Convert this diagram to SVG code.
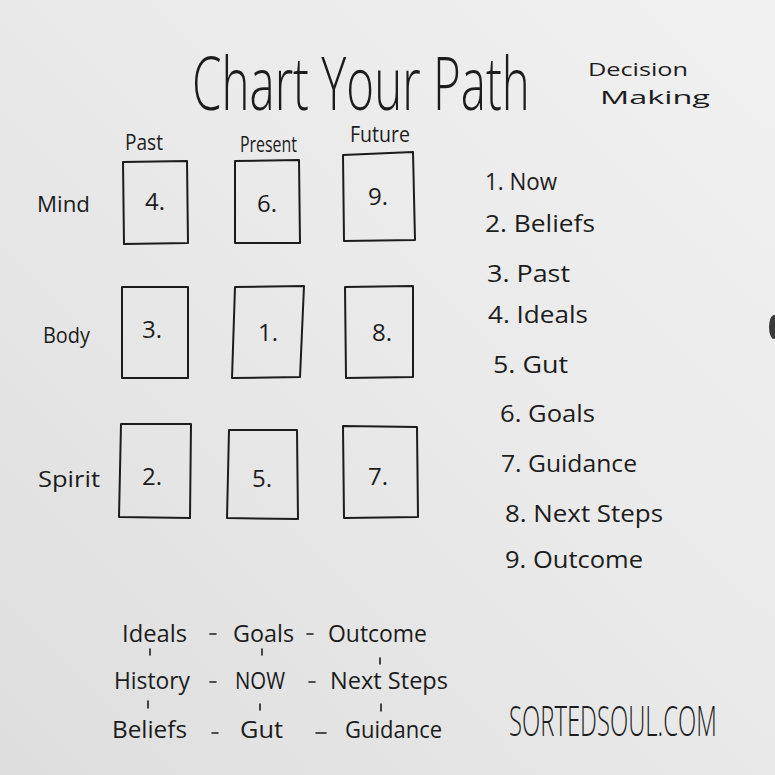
<svg xmlns="http://www.w3.org/2000/svg" width="775" height="775" viewBox="0 0 775 775">
<defs>
<linearGradient id="paper" x1="1" y1="0" x2="0" y2="1">
<stop offset="0" stop-color="#f1f1f1"/>
<stop offset="0.5" stop-color="#e9e9e9"/>
<stop offset="1" stop-color="#dedede"/>
</linearGradient>
<style>
.t{font-family:"Open Sans","Liberation Sans",sans-serif;fill:#1c1c1c;}
.box{fill:none;stroke:#1c1c1c;stroke-width:2;stroke-linejoin:round;}
.ln{stroke:#1c1c1c;stroke-width:1.6;stroke-linecap:round;fill:none;}
.hand{font-size:24px;}
.lbl{font-size:21px;}
.num{font-size:24px;}
</style>
</defs>
<rect width="775" height="775" fill="url(#paper)"/>
<ellipse cx="774" cy="327" rx="5" ry="12" fill="#3a3a3a"/>

<g id="title">
<text class="t" transform="translate(192,110) scale(0.646,1)" x="0" y="0" font-size="74" font-weight="300" textLength="523" lengthAdjust="spacingAndGlyphs">Chart Your Path</text>
<text class="t" x="588" y="76" font-size="18" textLength="100" lengthAdjust="spacingAndGlyphs">Decision</text>
<text class="t" x="600" y="104" font-size="18" textLength="110" lengthAdjust="spacingAndGlyphs">Making</text>
</g>

<g id="column-headers">
<text class="t lbl" x="125" y="150" textLength="38" lengthAdjust="spacingAndGlyphs">Past</text>
<text class="t lbl" x="240" y="152" textLength="57" lengthAdjust="spacingAndGlyphs">Present</text>
<text class="t lbl" x="350" y="142" font-size="20" textLength="60" lengthAdjust="spacingAndGlyphs">Future</text>
</g>

<g id="row-headers">
<text class="t lbl" x="37" y="212" textLength="53" lengthAdjust="spacingAndGlyphs">Mind</text>
<text class="t lbl" x="43" y="343" textLength="47" lengthAdjust="spacingAndGlyphs">Body</text>
<text class="t lbl" x="38" y="487" textLength="62" lengthAdjust="spacingAndGlyphs">Spirit</text>
</g>

<g id="card-4"><path class="box" d="M123,162 L187,161 L188,243 L124,244 Z"/><text class="t num" x="145" y="210">4.</text></g>
<g id="card-6"><path class="box" d="M235,161 L299,160 L300,243 L235,243 Z"/><text class="t num" x="257" y="212">6.</text></g>
<g id="card-9"><path class="box" d="M343,155 L413,152 L415,240 L344,241 Z"/><text class="t num" x="368" y="205">9.</text></g>

<g id="card-3"><path class="box" d="M122,287 L188,287 L188,378 L122,378 Z"/><text class="t num" x="142" y="338">3.</text></g>
<g id="card-1"><path class="box" d="M235,287 L304,286 L300,377 L232,378 Z"/><text class="t num" x="258" y="341">1.</text></g>
<g id="card-8"><path class="box" d="M345,287 L413,286 L413,377 L346,378 Z"/><text class="t num" x="372" y="341">8.</text></g>

<g id="card-2"><path class="box" d="M121,424 L191,424 L190,518 L119,517 Z"/><text class="t num" x="142" y="485">2.</text></g>
<g id="card-5"><path class="box" d="M229,430 L297,430 L298,519 L227,518 Z"/><text class="t num" x="252" y="487">5.</text></g>
<g id="card-7"><path class="box" d="M343,426 L417,427 L418,517 L344,518 Z"/><text class="t num" x="368" y="485">7.</text></g>

<g id="key-list">
<text class="t hand" x="485" y="190" textLength="72" lengthAdjust="spacingAndGlyphs">1. Now</text>
<text class="t hand" x="485" y="232" textLength="110" lengthAdjust="spacingAndGlyphs">2. Beliefs</text>
<text class="t hand" x="487" y="282" textLength="83" lengthAdjust="spacingAndGlyphs">3. Past</text>
<text class="t hand" x="488" y="323" textLength="100" lengthAdjust="spacingAndGlyphs">4. Ideals</text>
<text class="t hand" x="493" y="373" textLength="75" lengthAdjust="spacingAndGlyphs">5. Gut</text>
<text class="t hand" x="500" y="422" textLength="95" lengthAdjust="spacingAndGlyphs">6. Goals</text>
<text class="t hand" x="501" y="472" textLength="136" lengthAdjust="spacingAndGlyphs">7. Guidance</text>
<text class="t hand" x="505" y="522" textLength="158" lengthAdjust="spacingAndGlyphs">8. Next Steps</text>
<text class="t hand" x="505" y="568" textLength="138" lengthAdjust="spacingAndGlyphs">9. Outcome</text>
</g>

<g id="summary">
<text class="t hand" x="122" y="642" textLength="65" lengthAdjust="spacingAndGlyphs">Ideals</text>
<text class="t hand" x="233" y="642" textLength="61" lengthAdjust="spacingAndGlyphs">Goals</text>
<text class="t hand" x="328" y="642" textLength="99" lengthAdjust="spacingAndGlyphs">Outcome</text>
<text class="t hand" x="114" y="689" textLength="76" lengthAdjust="spacingAndGlyphs">History</text>
<text class="t hand" x="235" y="689" textLength="50" lengthAdjust="spacingAndGlyphs">NOW</text>
<text class="t hand" x="330" y="689" textLength="118" lengthAdjust="spacingAndGlyphs">Next Steps</text>
<text class="t hand" x="112" y="738" textLength="75" lengthAdjust="spacingAndGlyphs">Beliefs</text>
<text class="t hand" x="240" y="738" textLength="43" lengthAdjust="spacingAndGlyphs">Gut</text>
<text class="t hand" x="345" y="738" textLength="97" lengthAdjust="spacingAndGlyphs">Guidance</text>
</g>

<g id="connectors">
<path class="ln" d="M210,634 H216 M307,634 H313"/>
<path class="ln" d="M210,682 H216 M309,682 H315"/>
<path class="ln" d="M212,733 H218 M316,733 H326"/>
<path class="ln" d="M150,649 V655 M262,649 V655 M380,658 V664"/>
<path class="ln" d="M148,701 V708 M260,704 V710 M381,704 V711"/>
</g>

<g id="watermark">
<text transform="translate(509,736) scale(0.594,1)" x="0" y="0" font-family="'Open Sans','Liberation Sans',sans-serif" font-size="42" font-weight="300" fill="#1c1c1c" textLength="350" lengthAdjust="spacingAndGlyphs">SORTEDSOUL.COM</text>
</g>
</svg>
